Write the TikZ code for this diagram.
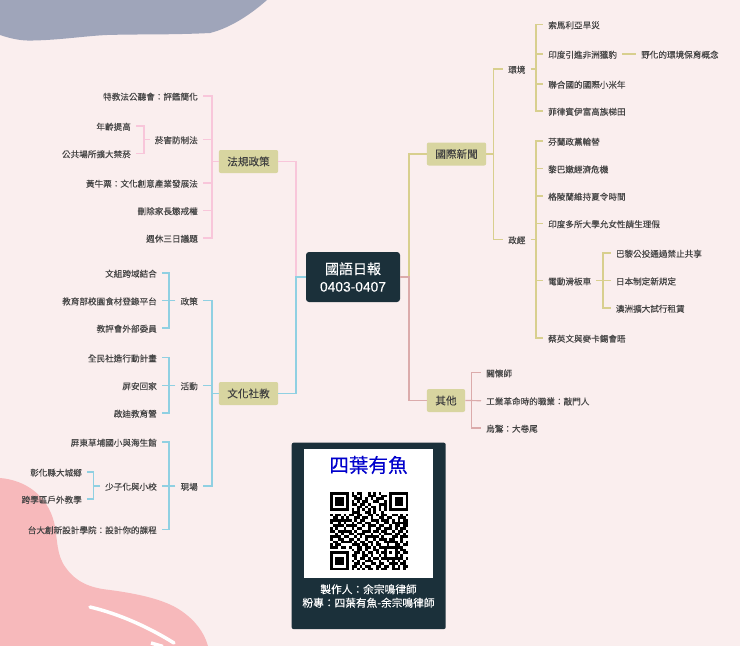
\documentclass[tikz,border=0pt]{standalone}
\usepackage{fontspec}
\setmainfont{Noto Sans CJK TC}[FakeBold=0.12]
\newfontfamily\digitfont{Liberation Sans}[FakeBold=0.12]
\definecolor{paper}{HTML}{FAEEEE}
\definecolor{slate}{HTML}{9FA5BA}
\definecolor{blush}{HTML}{F7B9BB}
\definecolor{night}{HTML}{1B303A}
\definecolor{khaki}{HTML}{D8D5A0}
\definecolor{inktext}{HTML}{454545}
\definecolor{pinkline}{HTML}{F8C6DA}
\definecolor{blueline}{HTML}{8FD0E2}
\definecolor{goldline}{HTML}{D8CF8E}
\definecolor{roseline}{HTML}{DBABAB}
\tikzset{
	leaf/.style={font=\fontsize{8.6}{10}\selectfont, text=inktext, inner xsep=5pt, inner ysep=0pt, text height=8pt, text depth=0pt},
	topic/.style={fill=khaki, rounded corners=2pt, font=\fontsize{10.6}{12}\selectfont, text=black!75, inner xsep=8.5pt, inner ysep=0pt, minimum height=23pt},
	trunk/.style={line width=1.2pt}
}
\newcount\qrcol
\def\qrnext#1{\ifx#1;\let\qrgo\relax\else\if#11\fill[black] (\the\qrcol,\qrline) rectangle ++(1,1);\fi\advance\qrcol by 1 \let\qrgo\qrnext\fi\qrgo}
\begin{document}
\begin{tikzpicture}[x=1pt, y=-1pt]
	\useasboundingbox (0, 0) rectangle (740, 646);
	\fill[paper] (0, 0) rectangle (740, 646);
	\fill[slate] (0, 0) -- (0, 35) .. controls (12, 39) and (22, 41) .. (33, 40.5) .. controls (60, 40) and (85, 36) .. (107, 35) .. controls (140, 34) and (170, 35) .. (210, 33) .. controls (230, 28) and (250, 15) .. (267, 0) -- cycle;
	\fill[blush] (0, 478) .. controls (25, 480) and (47, 495) .. (54, 522) .. controls (58, 540) and (56, 555) .. (66, 568) .. controls (76, 582) and (90, 588) .. (110, 590) .. controls (140, 594) and (165, 600) .. (180, 610) .. controls (195, 620) and (204, 632) .. (208, 646) -- (0, 646) -- cycle;
	\draw[white, line width=3.5pt, line cap=round] (90, 607) .. controls (120, 614) and (150, 628) .. (174, 643);
	\draw[white, line width=3.5pt] (151, 643) -- (163, 646.5);

	\node[fill=night, rounded corners=3pt, minimum width=94pt, minimum height=50pt, inner sep=0pt, align=center, text=white, font=\fontsize{14}{17.5}\selectfont] (daily) at (353, 277) {國語日報\\{\digitfont\fontsize{13.8}{17.5}\selectfont 0403-0407}};

	\node[topic] (law) at (248.5, 161.5) {法規政策};
	\node[topic] (culture) at (248.5, 393.5) {文化社教};
	\node[topic] (world) at (456.5, 154) {國際新聞};
	\node[topic] (other) at (446, 400.5) {其他};
	\draw[trunk, pinkline] (law.east) -| (296, 277);
	\draw[trunk, blueline] (daily.west) -- (296, 277) |- (culture.east);
	\draw[trunk, goldline] (daily.east) -- (409, 277) |- (world.west);
	\draw[trunk, roseline] (daily.east) -- (409, 277) |- (other.west);

	\node[leaf, anchor=east] (hearing) at (203, 96) {特教法公聽會：評鑑簡化};
	\node[leaf, anchor=east] (tobacco) at (203, 139.5) {菸害防制法};
	\node[leaf, anchor=east] (scalper) at (203, 183) {黃牛票：文化創意產業發展法};
	\node[leaf, anchor=east] (discipline) at (203, 210.5) {刪除家長懲戒權};
	\node[leaf, anchor=east] (holiday) at (203, 238) {週休三日議題};
	\node[leaf, anchor=east] (age) at (136, 126) {年齡提高};
	\node[leaf, anchor=east] (smoke) at (136, 153.5) {公共場所擴大禁菸};
	\coordinate (lawtrunk) at (212, 161.5);
	\coordinate (tobaccotrunk) at (144, 139.5);
	\draw[trunk, pinkline] (law.west) -- (lawtrunk);
	\foreach \leaf in {hearing, tobacco, scalper, discipline, holiday}
		\draw[trunk, pinkline] (lawtrunk) |- (\leaf.east);
	\draw[trunk, pinkline] (tobacco.west) -- (tobaccotrunk);
	\foreach \leaf in {age, smoke}
		\draw[trunk, pinkline] (tobaccotrunk) |- (\leaf.east);

	\node[leaf, anchor=east] (policy) at (203, 300.7) {政策};
	\node[leaf, anchor=east] (event) at (203, 385.5) {活動};
	\node[leaf, anchor=east] (field) at (203, 486) {現場};
	\node[leaf, anchor=east] (crossdomain) at (162, 273) {文組跨域結合};
	\node[leaf, anchor=east] (foodsite) at (162, 300.7) {教育部校園食材登錄平台};
	\node[leaf, anchor=east] (review) at (162, 328) {教評會外部委員};
	\node[leaf, anchor=east] (community) at (162, 357.7) {全民社造行動計畫};
	\node[leaf, anchor=east] (pingan) at (162, 385.5) {屏安回家};
	\node[leaf, anchor=east] (camp) at (162, 413) {啟迪教育營};
	\node[leaf, anchor=east] (caopu) at (162, 442) {屏東草埔國小與海生館};
	\node[leaf, anchor=east] (smallschool) at (162, 486) {少子化與小校};
	\node[leaf, anchor=east] (design) at (162, 529.5) {台大創新設計學院：設計你的課程};
	\node[leaf, anchor=east] (dacheng) at (87, 472) {彰化縣大城鄉};
	\node[leaf, anchor=east] (outdoor) at (87, 499) {跨學區戶外教學};
	\coordinate (culturetrunk) at (212, 393.5);
	\coordinate (policytrunk) at (169, 300.7);
	\coordinate (eventtrunk) at (169, 385.5);
	\coordinate (fieldtrunk) at (169, 486);
	\coordinate (schooltrunk) at (93.5, 486);
	\draw[trunk, blueline] (culture.west) -- (culturetrunk);
	\foreach \leaf in {policy, event, field}
		\draw[trunk, blueline] (culturetrunk) |- (\leaf.east);
	\draw[trunk, blueline] (policy.west) -- (foodsite.east);
	\foreach \leaf in {crossdomain, review}
		\draw[trunk, blueline] (policytrunk) |- (\leaf.east);
	\draw[trunk, blueline] (event.west) -- (pingan.east);
	\foreach \leaf in {community, camp}
		\draw[trunk, blueline] (eventtrunk) |- (\leaf.east);
	\draw[trunk, blueline] (field.west) -- (smallschool.east);
	\foreach \leaf in {caopu, design}
		\draw[trunk, blueline] (fieldtrunk) |- (\leaf.east);
	\draw[trunk, blueline] (smallschool.west) -- (schooltrunk);
	\foreach \leaf in {dacheng, outdoor}
		\draw[trunk, blueline] (schooltrunk) |- (\leaf.east);

	\node[leaf, anchor=west] (nature) at (503, 69) {環境};
	\node[leaf, anchor=west] (politics) at (503, 239.5) {政經};
	\node[leaf, anchor=west] (somalia) at (543, 24.5) {索馬利亞旱災};
	\node[leaf, anchor=west] (cheetah) at (543, 54) {印度引進非洲獵豹};
	\node[leaf, anchor=west] (rewild) at (636, 54) {野化的環境保育概念};
	\node[leaf, anchor=west] (millet) at (543, 84) {聯合國的國際小米年};
	\node[leaf, anchor=west] (terrace) at (543, 111) {菲律賓伊富高族梯田};
	\node[leaf, anchor=west] (finland) at (543, 141) {芬蘭政黨輪替};
	\node[leaf, anchor=west] (lebanon) at (543, 168.7) {黎巴嫩經濟危機};
	\node[leaf, anchor=west] (greenland) at (543, 196) {格陵蘭維持夏令時間};
	\node[leaf, anchor=west] (india) at (543, 223.5) {印度多所大學允女性請生理假};
	\node[leaf, anchor=west] (scooter) at (543, 280.7) {電動滑板車};
	\node[leaf, anchor=west] (tsai) at (543, 338) {蔡英文與麥卡錫會晤};
	\node[leaf, anchor=west] (paris) at (610.7, 253) {巴黎公投通過禁止共享};
	\node[leaf, anchor=west] (japan) at (610.7, 280.7) {日本制定新規定};
	\node[leaf, anchor=west] (australia) at (610.7, 308) {澳洲擴大試行租賃};
	\coordinate (worldtrunk) at (493.3, 154);
	\coordinate (naturetrunk) at (536, 69);
	\coordinate (politicstrunk) at (536, 239.5);
	\coordinate (scootertrunk) at (603, 280.7);
	\draw[trunk, goldline] (world.east) -- (worldtrunk);
	\foreach \leaf in {nature, politics}
		\draw[trunk, goldline] (worldtrunk) |- (\leaf.west);
	\draw[trunk, goldline] (nature.east) -- (naturetrunk);
	\foreach \leaf in {somalia, cheetah, millet, terrace}
		\draw[trunk, goldline] (naturetrunk) |- (\leaf.west);
	\draw[trunk, goldline] (cheetah.east) -- (rewild.west);
	\draw[trunk, goldline] (politics.east) -- (politicstrunk);
	\foreach \leaf in {finland, lebanon, greenland, india, scooter, tsai}
		\draw[trunk, goldline] (politicstrunk) |- (\leaf.west);
	\draw[trunk, goldline] (scooter.east) -- (japan.west);
	\foreach \leaf in {paris, australia}
		\draw[trunk, goldline] (scootertrunk) |- (\leaf.west);

	\node[leaf, anchor=west] (caregiver) at (481, 372.7) {關懷師};
	\node[leaf, anchor=west] (knocker) at (481, 400.7) {工業革命時的職業：敲門人};
	\node[leaf, anchor=west] (drongo) at (481, 428) {烏鶖：大卷尾};
	\coordinate (othertrunk) at (471.3, 400.5);
	\draw[trunk, roseline] (other.east) -- (knocker.west);
	\foreach \leaf in {caregiver, drongo}
		\draw[trunk, roseline] (othertrunk) |- (\leaf.west);

	\node[fill=night, rounded corners=2pt, minimum width=154pt, minimum height=186.5pt, inner sep=0pt] (card) at (368.7, 535.9) {};
	\node[fill=white, minimum width=128.4pt, minimum height=128.4pt, inner sep=0pt] (qrpanel) at (368.5, 513.5) {};
	\node[text=blue!80!black, font=\fontsize{19.6}{22}\selectfont, inner sep=0pt] (brand) at (368.5, 465) {四葉有魚};
	\node[text=white, align=center, inner sep=0pt, font=\fontsize{10.7}{13.5}\selectfont] (credit) at (368.5, 596) {製作人：余宗鳴律師\\粉專：四葉有魚-余宗鳴律師};
	\begin{scope}[shift={(330, 492)}, x=2.7pt, y=-2.7pt]
		\foreach \qrbits [count=\qrline from 0] in {
			11111110101100101010001111111,
			10000010110100111001101000001,
			10111010011101010111001011101,
			10111010101011001100101011101,
			10111010110110100011101011101,
			10000010001101011010101000001,
			11111110101010101010101111111,
			00000000111001101001000000000,
			10110101101100110101100110101,
			01101010011011010011011001110,
			11111111010110011101110101011,
			10010100101101100100110111111,
			01111011110010111011001011011,
			10100100101100100110111010110,
			11011111010011101101100101101,
			00101001101110010010111011010,
			11110110010101111101000110111,
			10011001101001001011101100100,
			01101111010110110100111110101,
			10110000111011010110010011011,
			11101101001101101011111111100,
			00000000101101001100100010110,
			11111110011010110101101011011,
			10000010110011010010100010100,
			10111010010110101101111111101,
			10111010101001110010010101010,
			10111010011010011011001110110,
			10000010110101100110110101011,
			11111110101010110101100111010}
			{\global\qrcol=0 \expandafter\qrnext\qrbits;}
	\end{scope}
\end{tikzpicture}
\end{document}
